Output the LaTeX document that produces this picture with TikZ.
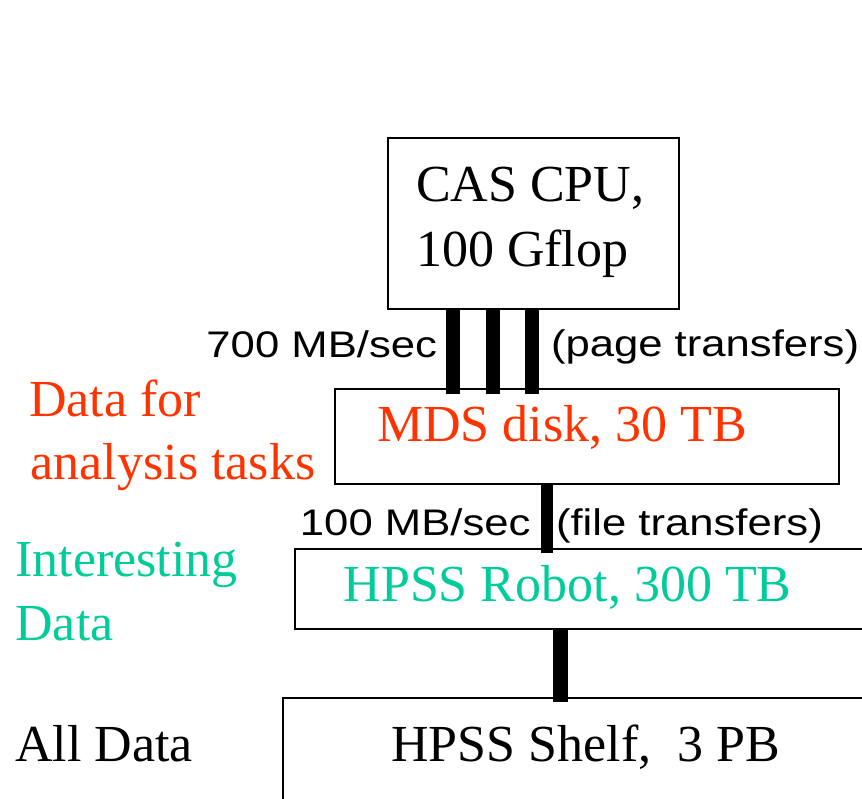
\documentclass[tikz,border=0pt]{standalone}
\usepackage{fontspec}
\setmainfont{Liberation Serif}
\newfontfamily\labelsans{Liberation Sans}[FakeStretch=1.18]
\definecolor{diskred}{RGB}{255,51,0}
\definecolor{tapegreen}{RGB}{0,204,153}
\begin{document}
\begin{tikzpicture}[x=1pt,y=-1pt,
  box/.style={draw=black,line width=1.8pt,rectangle,inner sep=0pt,outer sep=0pt},
  bar/.style={line width=#1,black},
  serif/.style={inner sep=0pt,outer sep=0pt,font=\fontsize{52}{62}\selectfont},
  rate/.style={inner sep=0pt,outer sep=0pt,font=\labelsans\fontsize{37}{44}\selectfont}]
\useasboundingbox (0,0) rectangle (862,799);
\clip (0,0) rectangle (862,799);

% storage hierarchy boxes
\node[box,minimum width=291pt,minimum height=171pt] (cpu)   at (533.5,223.5) {};
\node[box,minimum width=504pt,minimum height=95pt]  (mds)   at (587,436.5) {};
\node[box,minimum width=605pt,minimum height=80pt]  (robot) at (597.5,589) {};
\node[box,minimum width=617pt,minimum height=142pt] (shelf) at (591.5,769) {};

% x positions of the links
\coordinate (l1) at (453,0);
\coordinate (l2) at (493,0);
\coordinate (l3) at (532,0);
\coordinate (l4) at (547,0);
\coordinate (l5) at (560,0);

% links between the levels
\draw[bar=14pt] (cpu.south -| l1) -- ([yshift=-5pt]mds.north -| l1);
\draw[bar=14pt] (cpu.south -| l2) -- ([yshift=-5pt]mds.north -| l2);
\draw[bar=14pt] (cpu.south -| l3) -- ([yshift=-5pt]mds.north -| l3);
\draw[bar=12pt] (mds.south -| l4) -- ([yshift=-4pt]robot.north -| l4);
\draw[bar=15pt] (robot.south -| l5) -- ([yshift=-4pt]shelf.north -| l5);

% box texts
\node[serif,anchor=base west] (cpuA) at (416,201.7) {CAS CPU,};
\node[serif,anchor=base west] (cpuB) at (416,266.7) {100 Gflop};
\node[serif,anchor=base west,text=diskred] (mdsT) at (377,441.7) {MDS disk, 30 TB};
\node[serif,anchor=base west,text=tapegreen] (robotT) at (343.6,601.7) {HPSS Robot, 300 TB};
\node[serif,anchor=base west] (shelfT) at (391.4,761.7) {HPSS Shelf,\ \ 3 PB};

% transfer rates
\node[rate,anchor=base east] (r1) at (437,358) {700 MB/sec};
\node[rate,anchor=base west] (r1b) at (551,357) {(page transfers)};
\node[rate,anchor=base east] (r2) at (530.5,535) {100 MB/sec};
\node[rate,anchor=base west] (r2b) at (556,535) {(file transfers)};

% level descriptions
\node[serif,anchor=base west,text=diskred] (d1) at (29.3,416.7) {Data for};
\node[serif,anchor=base west,text=diskred] (d2) at (30.7,479.7) {analysis tasks};
\node[serif,anchor=base west,text=tapegreen] (i1) at (15.4,576) {Interesting};
\node[serif,anchor=base west,text=tapegreen] (i2) at (15.4,640) {Data};
\node[serif,anchor=base west] (a1) at (15.4,761.7) {All Data};
\end{tikzpicture}
\end{document}
